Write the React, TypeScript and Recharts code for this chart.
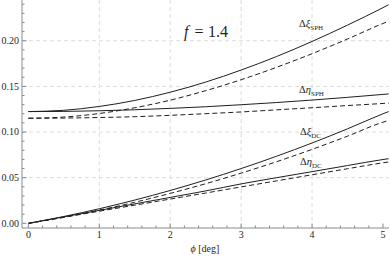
import { LineChart, Line, XAxis, YAxis, ReferenceLine } from 'recharts'

// phi [deg]
const phi = [0, 0.5, 1, 1.5, 2, 2.5, 3, 3.5, 4, 4.5, 5, 5.08]

// SPH (solid = full, dashed = approx)
const xiSph = [0.1224, 0.1238, 0.128, 0.1346, 0.1436, 0.1547, 0.1679, 0.1827, 0.1992, 0.2171, 0.2362, 0.2394]
const xiSphDash = [0.1151, 0.1164, 0.1203, 0.1266, 0.1349, 0.1453, 0.1573, 0.1709, 0.1858, 0.2019, 0.2189, 0.2214]
const etaSph = [0.1224, 0.1226, 0.1233, 0.1244, 0.1259, 0.1277, 0.1299, 0.1323, 0.135, 0.138, 0.1412, 0.1417]
const etaSphDash = [0.1151, 0.1153, 0.1159, 0.1168, 0.1183, 0.1201, 0.122, 0.1243, 0.1266, 0.129, 0.1313, 0.1317]

// DC
const xiDc = [0, 0.0075, 0.016, 0.0255, 0.036, 0.0475, 0.06, 0.0735, 0.088, 0.1035, 0.12, 0.1224]
const xiDcDash = [0, 0.0067, 0.0145, 0.0231, 0.0328, 0.0434, 0.055, 0.0675, 0.081, 0.0955, 0.1108, 0.1127]
const etaDc = [0, 0.0071, 0.0142, 0.0213, 0.0284, 0.0355, 0.0432, 0.05, 0.0566, 0.0633, 0.0699, 0.0708]
const etaDcDash = [0, 0.0066, 0.0133, 0.0199, 0.0266, 0.0332, 0.0399, 0.0465, 0.0532, 0.0598, 0.0663, 0.0672]

const xTicks = [0, 0.2, 0.4, 0.6, 0.8, 1, 1.2, 1.4, 1.6, 1.8, 2, 2.2, 2.4, 2.6, 2.8, 3, 3.2, 3.4, 3.6, 3.8, 4, 4.2, 4.4, 4.6, 4.8, 5]
const yTicks = [0, 0.01, 0.02, 0.03, 0.04, 0.05, 0.06, 0.07, 0.08, 0.09, 0.1, 0.11, 0.12, 0.13, 0.14, 0.15, 0.16, 0.17, 0.18, 0.19, 0.2, 0.21, 0.22, 0.23, 0.24]
const xGrid = [1, 2, 3, 4]
const yGrid = [0.05, 0.1, 0.15, 0.2]

const rows = phi.map((p, i) => ({
  phi: p,
  xiSph: xiSph[i],
  xiSphDash: xiSphDash[i],
  etaSph: etaSph[i],
  etaSphDash: etaSphDash[i],
  xiDc: xiDc[i],
  xiDcDash: xiDcDash[i],
  etaDc: etaDc[i],
  etaDcDash: etaDcDash[i],
}))

const FRAME = '#8a8a8a'
const INK = '#1f1f1f'
const FONT = "'Liberation Serif', 'Times New Roman', Times, 'DejaVu Serif', serif"
const serif = { fontFamily: FONT }

const isMajorX = (v: number) => Math.abs(v - Math.round(v)) < 1e-6
const isMajorY = (v: number) => Math.abs(v * 20 - Math.round(v * 20)) < 1e-6

function Tick(props: any) {
  const { x, y, payload, side } = props
  const v = payload.value as number
  const major = side === 'bottom' || side === 'top' ? isMajorX(v) : isMajorY(v)
  const len = major ? 4.5 : 2.5
  if (side === 'bottom') {
    return (
      <g>
        <line x1={x} y1={y} x2={x} y2={y - len} stroke={FRAME} />
        {major && (
          <text x={x} y={y + 9.5} textAnchor="middle" fontSize={10} style={serif} fill={INK}>
            {v.toFixed(0)}
          </text>
        )}
      </g>
    )
  }
  if (side === 'top') {
    return <line x1={x} y1={y} x2={x} y2={y + len} stroke={FRAME} />
  }
  if (side === 'left') {
    return (
      <g>
        <line x1={x} y1={y} x2={x + len} y2={y} stroke={FRAME} />
        {major && (
          <text x={x - 3} y={y + 3.4} textAnchor="end" fontSize={10} style={serif} fill={INK}>
            {v.toFixed(2)}
          </text>
        )}
      </g>
    )
  }
  return <line x1={x} y1={y} x2={x - len} y2={y} stroke={FRAME} />
}

const X_DOMAIN: [number, number] = [-0.09, 5.085]
const Y_DOMAIN: [number, number] = [-0.0051, 0.2446]

function CurveLabel({ x, y, sym, sub }: { x: number; y: number; sym: string; sub: string }) {
  return (
    <text x={x} y={y} style={serif} fill={INK} fontSize={10.5}>
      <tspan>Δ</tspan>
      <tspan fontStyle="italic">{sym}</tspan>
      <tspan fontSize={7} dy={3}>{sub}</tspan>
    </text>
  )
}

export default function App() {
  return (
    <div style={{ position: 'absolute', left: 0, top: 0, width: 390, height: 261, background: '#fff', fontFamily: FONT }}>
      <LineChart width={390} height={261} data={rows} margin={{ top: 0, right: 1, bottom: 0, left: 0 }}>
        {xGrid.map(v => (
          <ReferenceLine key={'gx' + v} x={v} stroke="#dcdcdc" strokeDasharray="4 3" />
        ))}
        {yGrid.map(v => (
          <ReferenceLine key={'gy' + v} y={v} stroke="#dcdcdc" strokeDasharray="4 3" />
        ))}
        <XAxis
          dataKey="phi"
          type="number"
          domain={X_DOMAIN}
          allowDataOverflow
          ticks={xTicks}
          interval={0}
          height={33}
          tickSize={0}
          tickMargin={0}
          tickLine={false}
          stroke={FRAME}
          tick={(p: any) => <Tick {...p} side="bottom" />}
        />
        <XAxis
          xAxisId="top"
          orientation="top"
          dataKey="phi"
          type="number"
          domain={X_DOMAIN}
          allowDataOverflow
          ticks={xTicks}
          interval={0}
          height={0}
          tickSize={0}
          tickMargin={0}
          tickLine={false}
          stroke={FRAME}
          tick={(p: any) => <Tick {...p} side="top" />}
        />
        <YAxis
          type="number"
          domain={Y_DOMAIN}
          allowDataOverflow
          ticks={yTicks}
          interval={0}
          width={22}
          tickSize={0}
          tickMargin={0}
          tickLine={false}
          stroke={FRAME}
          tick={(p: any) => <Tick {...p} side="left" />}
        />
        <YAxis
          yAxisId="right"
          orientation="right"
          type="number"
          domain={Y_DOMAIN}
          allowDataOverflow
          ticks={yTicks}
          interval={0}
          width={0}
          tickSize={0}
          tickMargin={0}
          tickLine={false}
          stroke={FRAME}
          tick={(p: any) => <Tick {...p} side="right" />}
        />
        <Line dataKey="xiSph" type="monotone" stroke={INK} strokeWidth={1} dot={false} isAnimationActive={false} />
        <Line dataKey="xiSphDash" type="monotone" stroke={INK} strokeWidth={1} strokeDasharray="5 3" dot={false} isAnimationActive={false} />
        <Line dataKey="etaSph" type="monotone" stroke={INK} strokeWidth={1} dot={false} isAnimationActive={false} />
        <Line dataKey="etaSphDash" type="monotone" stroke={INK} strokeWidth={1} strokeDasharray="5 3" dot={false} isAnimationActive={false} />
        <Line dataKey="xiDc" type="monotone" stroke={INK} strokeWidth={1} dot={false} isAnimationActive={false} />
        <Line dataKey="xiDcDash" type="monotone" stroke={INK} strokeWidth={1} strokeDasharray="5 3" dot={false} isAnimationActive={false} />
        <Line dataKey="etaDc" type="monotone" stroke={INK} strokeWidth={1} dot={false} isAnimationActive={false} />
        <Line dataKey="etaDcDash" type="monotone" stroke={INK} strokeWidth={1} strokeDasharray="5 3" dot={false} isAnimationActive={false} />
      </LineChart>
      <svg width={390} height={261} style={{ position: 'absolute', left: 0, top: 0, pointerEvents: 'none' }}>
        <text y={36.7} style={serif} fontSize={16} fill={INK}>
          <tspan x={184} fontStyle="italic">f</tspan>
          <tspan x={194.5}>=</tspan>
          <tspan x={208}>1.4</tspan>
        </text>
        <CurveLabel x={299} y={26.5} sym="ξ" sub="SPH" />
        <CurveLabel x={299} y={92.5} sym="η" sub="SPH" />
        <CurveLabel x={300} y={134.5} sym="ξ" sub="DC" />
        <CurveLabel x={300} y={165} sym="η" sub="DC" />
        <text x={205} y={252} textAnchor="middle" style={serif} fontSize={10} fill={INK}>
          <tspan fontStyle="italic">ϕ</tspan>
          <tspan> [deg]</tspan>
        </text>
      </svg>
    </div>
  )
}
